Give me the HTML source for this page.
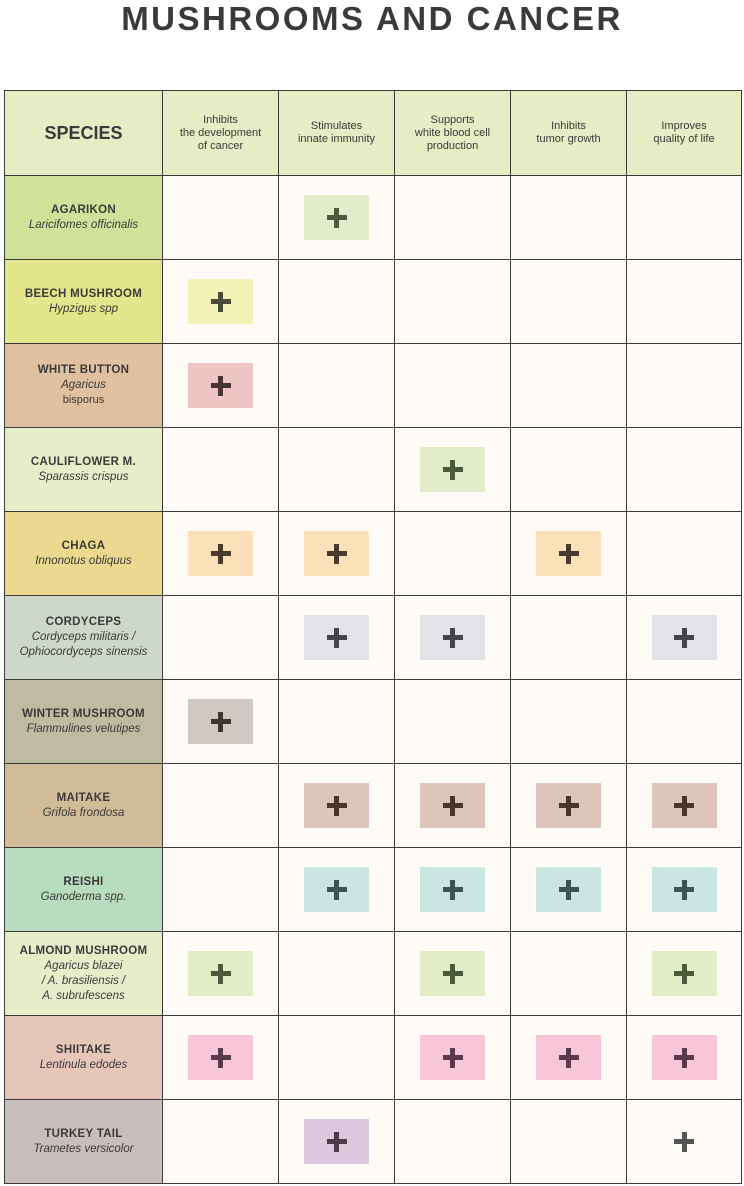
<!DOCTYPE html><html><head><style>
body{margin:0;width:744px;height:1186px;background:#fff;position:relative;font-family:"Liberation Sans",sans-serif;overflow:hidden}
h1{position:absolute;top:0;left:0;width:744px;margin:0;text-align:center;font-size:33px;font-weight:bold;color:#3a3a3a;line-height:38px;letter-spacing:2.5px}
.c{position:absolute;box-sizing:border-box;border:1px solid #3a3a3a;display:flex;align-items:center;justify-content:center;text-align:center;color:#3a3a3a}
.h{background:#e4edc3;font-size:11px;line-height:13px;border-width:1.5px}
.s{font-size:11px;line-height:15px;border-width:1.5px}
.s b{font-size:11.5px;letter-spacing:.3px}
.s i{font-size:11.5px}
.e{background:#fefbf6}
.bx{width:65px;height:45px;display:flex;align-items:center;justify-content:center}
.p{position:relative;width:20px;height:20px}
.p:before,.p:after{content:"";position:absolute;background:currentColor}
.p:before{left:0;top:7.5px;width:20px;height:5px}
.p:after{left:7.5px;top:0;width:5px;height:20px}
</style></head><body>
<h1>MUSHROOMS AND CANCER</h1>
<div id="g"></div>
<script>
var xs=[4,162,278,394,510,626,741];
var hy=90,h0=175,rh=84;
var heads=["Inhibits<br>the development<br>of cancer","Stimulates<br>innate immunity","Supports<br>white blood cell<br>production","Inhibits<br>tumor growth","Improves<br>quality of life"];
var rows=[
["AGARIKON","Laricifomes officinalis","#d0e19a",{2:"#e2eccb"},"#4a5a3a"],
["BEECH MUSHROOM","Hypzigus spp","#e3e68a",{1:"#f3f3b8"},"#4a4a3a"],
["WHITE BUTTON","Agaricus<br></i><span>bisporus</span><i>","#dfc0a0",{1:"#ecc5c4"},"#4a3434"],
["CAULIFLOWER M.","Sparassis crispus","#e5eec8",{3:"#e2eccb"},"#4a5a3a"],
["CHAGA","Innonotus obliquus","#ecd88e",{1:"#fbe0b8",2:"#fbe0b8",4:"#fbe0b8"},"#4a3a2e"],
["CORDYCEPS","Cordyceps militaris /<br>Ophiocordyceps sinensis","#cdd8c8",{2:"#e1e3e6",3:"#e1e3e6",5:"#e1e3e6"},"#444548"],
["WINTER MUSHROOM","Flammulines velutipes","#bebba0",{1:"#d0c8c2"},"#3e3430"],
["MAITAKE","Grifola frondosa","#d2bc98",{2:"#dfc4bc",3:"#dfc4bc",4:"#dfc4bc",5:"#dfc4bc"},"#4a3430"],
["REISHI","Ganoderma spp.","#b8dcc0",{2:"#cae6e1",3:"#cae6e1",4:"#cae6e1",5:"#cae6e1"},"#3e5450"],
["ALMOND MUSHROOM","Agaricus blazei<br>/ A. brasiliensis /<br>A. subrufescens","#e5eec8",{1:"#e2ecc5",3:"#e2ecc5",5:"#e2ecc5"},"#4a5a3a"],
["SHIITAKE","Lentinula edodes","#e7c6ba",{1:"#f7c6d8",3:"#f7c6d8",4:"#f7c6d8",5:"#f7c6d8"},"#5a3a48"],
["TURKEY TAIL","Trametes versicolor","#c9bebb",{2:"#dcc8dc",5:"#fefbf6"},"#4a3a4a"]
];
var o="";
function cell(x1,y1,x2,y2,cls,bg,inner){return '<div class="c '+cls+'" style="left:'+x1+'px;top:'+y1+'px;width:'+(x2-x1+1)+'px;height:'+(y2-y1+1)+'px;'+(bg?'background:'+bg:'')+'">'+inner+'</div>';}
o+=cell(xs[0],hy,xs[1],h0,"h","",'<b style="font-size:18px">SPECIES</b>');
for(var j=0;j<5;j++)o+=cell(xs[j+1],hy,xs[j+2],h0,"h","",'<div>'+heads[j]+'</div>');
rows.forEach(function(r,i){var y1=h0+i*rh,y2=y1+rh;
o+=cell(xs[0],y1,xs[1],y2,"s",r[2],'<div><b>'+r[0]+'</b><br><i>'+r[1]+'</i></div>');
for(var j=1;j<=5;j++){var inner="";if(r[3][j]){var pc=(i==11&&j==5)?"#555":r[4];inner='<div class="bx" style="background:'+r[3][j]+'"><div class="p" style="color:'+pc+'"></div></div>';}
o+=cell(xs[j],y1,xs[j+1],y2,"e","",inner);}
});
document.getElementById("g").innerHTML=o;
</script>
</body></html>
